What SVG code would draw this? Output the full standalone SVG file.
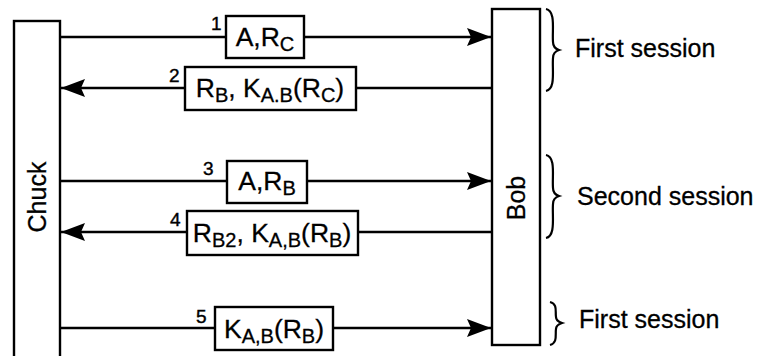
<svg xmlns="http://www.w3.org/2000/svg" width="757" height="356" viewBox="0 0 757 356">
<style>
.box{fill:#fff;stroke:#000;stroke-width:2.4}
.ln{fill:none;stroke:#000;stroke-width:2.4}
.br{fill:none;stroke:#000;stroke-width:2.2}
.t{font-family:"Liberation Sans",Arial,sans-serif;font-size:25px;fill:#000;stroke:#000;stroke-width:0.3}
.m{font-size:26.5px}
.s{font-size:20px}
.n{font-family:"Liberation Sans",Arial,sans-serif;font-size:19px;fill:#000;stroke:#000;stroke-width:0.4}
</style>
<defs>
<marker id="ah" viewBox="0 0 24 18" refX="24" refY="9" markerWidth="24" markerHeight="18" markerUnits="userSpaceOnUse" orient="auto">
<path d="M0,0 L24,9 L0,18 L4,9 Z" fill="#000"/>
</marker>
</defs>
<rect width="757" height="356" fill="#fff"/>
<g id="chuck">
<rect class="box" x="14" y="21" width="46" height="345"/>
<text class="t" transform="translate(46,197) rotate(-90)" text-anchor="middle">Chuck</text>
</g>
<g id="bob">
<rect class="box" x="492" y="9" width="48" height="336"/>
<text class="t" transform="translate(525,198) rotate(-90)" text-anchor="middle">Bob</text>
</g>
<g id="connectors">
<line class="ln" x1="60" y1="37" x2="491" y2="37" marker-end="url(#ah)"/>
<line class="ln" x1="491" y1="88" x2="61" y2="88" marker-end="url(#ah)"/>
<line class="ln" x1="60" y1="181" x2="491" y2="181" marker-end="url(#ah)"/>
<line class="ln" x1="491" y1="232" x2="61" y2="232" marker-end="url(#ah)"/>
<line class="ln" x1="60" y1="328" x2="491" y2="328" marker-end="url(#ah)"/>
</g>
<g id="msg1">
<rect class="box" x="226" y="16" width="78" height="42"/>
<text class="n" x="211" y="30">1</text>
<text class="t m" x="265" y="46" text-anchor="middle">A,R<tspan class="s" dy="5">C</tspan></text>
</g>
<g id="msg2">
<rect class="box" x="185" y="67" width="171" height="43"/>
<text class="n" x="169" y="82">2</text>
<text class="t m" x="270" y="97" text-anchor="middle">R<tspan class="s" dy="5">B</tspan><tspan dy="-5">, K</tspan><tspan class="s" dy="5">A.B</tspan><tspan dy="-5">(R</tspan><tspan class="s" dy="5">C</tspan><tspan dy="-5">)</tspan></text>
</g>
<g id="msg3">
<rect class="box" x="227" y="161" width="80" height="42"/>
<text class="n" x="203" y="175">3</text>
<text class="t m" x="267" y="190" text-anchor="middle">A,R<tspan class="s" dy="5">B</tspan></text>
</g>
<g id="msg4">
<rect class="box" x="187" y="211" width="171" height="44"/>
<text class="n" x="170" y="226">4</text>
<text class="t m" x="272" y="242" text-anchor="middle">R<tspan class="s" dy="5">B2</tspan><tspan dy="-5">, K</tspan><tspan class="s" dy="5">A,B</tspan><tspan dy="-5">(R</tspan><tspan class="s" dy="5">B</tspan><tspan dy="-5">)</tspan></text>
</g>
<g id="msg5">
<rect class="box" x="215" y="307" width="118" height="43"/>
<text class="n" x="196" y="323">5</text>
<text class="t m" x="274" y="338" text-anchor="middle">K<tspan class="s" dy="5">A,B</tspan><tspan dy="-5">(R</tspan><tspan class="s" dy="5">B</tspan><tspan dy="-5">)</tspan></text>
</g>
<g id="session1">
<path class="br" d="M546,9 C556,11 552,30 553,42 C553,47 556,49 559,50 C556,51 553,53 553,58 C552,70 556,89 546,91"/>
<text class="t" x="575" y="57">First session</text>
</g>
<g id="session2">
<path class="br" d="M546,155 C556,157 552,176 553,188 C553,193 556,195 559,196 C556,197 553,199 553,204 C552,216 556,236 546,238"/>
<text class="t" x="577" y="205">Second session</text>
</g>
<g id="session3">
<path class="br" d="M550,302 C558,304 555,312 556,317 C556,320 559,322 562,323 C559,324 556,326 556,329 C555,334 558,343 550,345"/>
<text class="t" x="579" y="328">First session</text>
</g>
</svg>
